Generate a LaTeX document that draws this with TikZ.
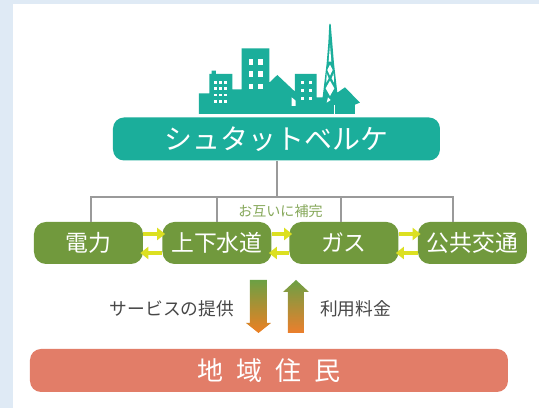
\documentclass[tikz,border=0pt]{standalone}
\usepackage{fontspec}
\usetikzlibrary{arrows.meta}
\newfontfamily\jpfont{Noto Sans CJK JP}
\newcommand{\px}{0.02cm}
\newcommand{\jpsize}[1]{\fontsize{#1}{#1}\selectfont\jpfont}
\definecolor{paleblue}{HTML}{DFEAF5}
\definecolor{cityteal}{HTML}{1BAE9B}
\definecolor{leafgreen}{HTML}{71993D}
\definecolor{linkyellow}{HTML}{DCE021}
\definecolor{busgrey}{HTML}{9A9A9A}
\definecolor{salmon}{HTML}{E27D68}
\definecolor{flowgreen}{HTML}{6CA044}
\definecolor{floworange}{HTML}{EE7F22}
\tikzset{
  utility/.style={fill=leafgreen, text=white, rounded corners=12*\px, inner sep=0pt,
    minimum width=109*\px, minimum height=42*\px, font=\jpsize{13pt}},
  busline/.style={draw=busgrey, line width=2.5*\px},
  linkarrow/.style={draw=linkyellow, line width=4*\px, shorten >=-3*\px,
    -{Triangle[length=8*\px,width=12*\px]}},
  caption/.style={text=black!72, font=\jpsize{10.1pt}, inner sep=0pt}
}
\begin{document}
\begin{tikzpicture}[x=\px, y=-\px]
    \fill[paleblue] (0,0) rectangle (539,408);
    \fill[white] (13,4) rectangle (539,408);

    % skyline
    \begin{scope}[shift={(180,10)}, scale=0.3333]
      \fill[cityteal] (57,312) -- (57,250) -- (88,250) -- (88,192) -- (95,192) -- (95,182)
        -- (108,182) -- (108,192) -- (157,192) -- (157,238) -- (185,238) -- (185,115)
        -- (268,115) -- (268,218) -- (292,195) -- (345,245) -- (345,192) -- (410,192)
        -- (410,262) -- (428,262) -- (440,160) -- (445,100) -- (448,42) -- (452,42)
        -- (457,100) -- (462,160) -- (472,248) -- (495,232) -- (540,278) -- (525,284)
        -- (525,312) -- cycle;
      \foreach \x in {0,1,2}
      {\foreach \y in {0,1,2,3}
        \fill[white] (101+\x*15,213+\y*19) rectangle +(9,8);
      }
      \foreach \x in {0,1}
      {\foreach \y in {0,1,2}
        \fill[white] (206+\x*28,147+\y*37) rectangle +(14,17);
      }
      \foreach \x in {0,1}
      {\foreach \y in {0,1,2}
        \fill[white] (362+\x*24,212+\y*24) rectangle +(10,10);
      }
      \fill[white] (335,262) -- (347,272) -- (347,288) -- (335,288) -- cycle;
      % tower lattice
      \fill[white] (450,105) -- (454,155) -- (446,155) -- cycle;
      \fill[white] (450,164) -- (458,180) -- (450,197) -- (442,180) -- cycle;
      \fill[white] (450,212) -- (463,235) -- (450,258) -- (437,235) -- cycle;
      \fill[white] (440,190) -- (446,205) -- (439,218) -- cycle;
      \fill[white] (461,190) -- (455,205) -- (462,218) -- cycle;
      \fill[white] (444,262) -- (452,270) -- (440,278) -- cycle;
      \draw[white, line width=0.5] (463,285) -- (463,312);
    \end{scope}

    \node (stadtwerke) at (276.5,139) [fill=cityteal, text=white, rounded corners=11*\px,
      inner sep=0pt, minimum width=327*\px, minimum height=43*\px,
      font=\jpsize{15.9pt}] {シュタットベルケ};

    \node[utility] (power) at (88.5,243) {電力};
    \node[utility] (water) at (217,243) {上下水道};
    \node[utility] (gas) at (344,243) {ガス};
    \node[utility] (transit) at (472.5,243) {公共交通};

    \coordinate (bus) at (277,197);
    \draw[busline] (stadtwerke.south -| bus) -- (bus);
    \draw[busline] (bus) -| ([xshift=2.5*\px]power.north);
    \draw[busline] (bus) -| (water.north);
    \draw[busline] (bus) -| ([xshift=-3*\px]gas.north);
    \draw[busline] (bus) -| ([xshift=-19.5*\px]transit.north);

    \node (mutual) at (280.5,211) [text=leafgreen!85!white, font=\jpsize{8pt}, inner sep=0pt] {お互いに補完};

    \foreach \a/\b in {power/water,water/gas,gas/transit}
    {
      \draw[linkarrow] ([yshift=9*\px]\a.east) -- ([yshift=9*\px]\b.west);
      \draw[linkarrow] ([yshift=-10*\px]\b.west) -- ([yshift=-10*\px]\a.east);
    }

    % service and fee
    \shade[top color=flowgreen, bottom color=floworange]
      (250,280) -- (267,280) -- (267,323) -- (271,323) -- (258.5,333) -- (246,323) -- (250,323) -- cycle;
    \shade[top color=flowgreen, bottom color=floworange!85!salmon]
      (288,333) -- (304,333) -- (304,292) -- (309,292) -- (296,280) -- (283,292) -- (288,292) -- cycle;
    \node[caption] (service) at (172,309) {サービスの提供};
    \node[caption] (fee) at (355.5,309) {利用料金};

    \node (residents) at (269,370.5) [fill=salmon, text=white, rounded corners=11*\px,
      inner sep=0pt, minimum width=478*\px, minimum height=43*\px,
      font=\jpsize{14.8pt}] {地\hspace{0.5em}域\hspace{0.5em}住\hspace{0.5em}民};

\end{tikzpicture}
\end{document}
